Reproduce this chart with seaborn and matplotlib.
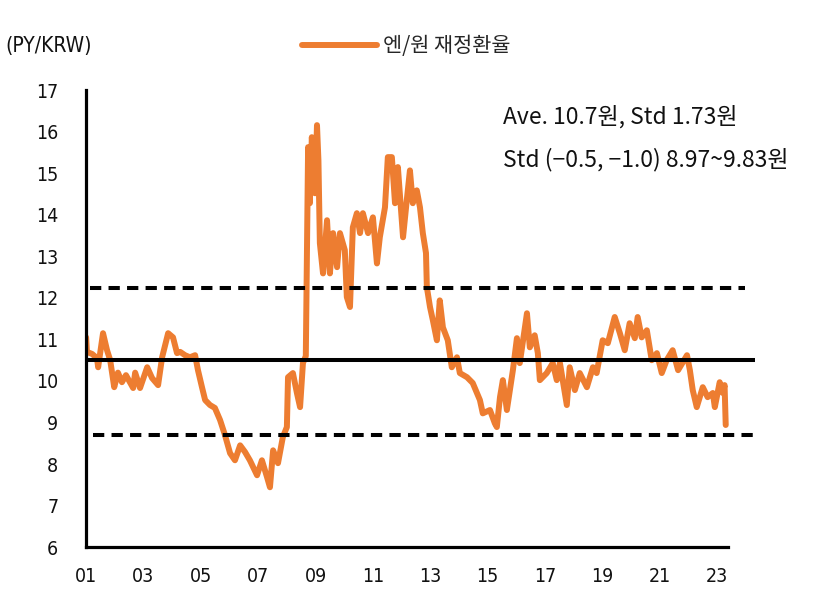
import pandas as pd
import numpy as np
import matplotlib.pyplot as plt
import seaborn as sns

# 엔/원 재정환율 (값은 그림에서 읽음)
years = [
    2001.00, 2001.03, 2001.21, 2001.38, 2001.42, 2001.59, 2001.73, 2001.84, 2001.98,
    2002.11, 2002.25, 2002.39, 2002.64, 2002.71, 2002.88, 2003.13, 2003.30, 2003.51,
    2003.65, 2003.86, 2004.03, 2004.17, 2004.28, 2004.45, 2004.62, 2004.80, 2004.90,
    2005.04, 2005.15, 2005.32, 2005.49, 2005.67, 2005.84, 2006.02, 2006.19, 2006.37,
    2006.54, 2006.71, 2006.96, 2007.13, 2007.31, 2007.41, 2007.52, 2007.69, 2007.86,
    2008.00, 2008.04, 2008.21, 2008.35, 2008.46, 2008.56, 2008.66, 2008.70, 2008.74,
    2008.80, 2008.87, 2008.98, 2009.05, 2009.10, 2009.15, 2009.26, 2009.40, 2009.50,
    2009.61, 2009.75, 2009.85, 2010.02, 2010.09, 2010.20, 2010.30, 2010.44, 2010.55,
    2010.65, 2010.83, 2011.00, 2011.14, 2011.24, 2011.42, 2011.52, 2011.66, 2011.77,
    2011.87, 2012.05, 2012.18, 2012.29, 2012.39, 2012.53, 2012.64, 2012.74, 2012.85,
    2012.88, 2012.99, 2013.09, 2013.23, 2013.33, 2013.44, 2013.61, 2013.75, 2013.93,
    2014.03, 2014.28, 2014.48, 2014.73, 2014.83, 2015.08, 2015.25, 2015.32, 2015.43,
    2015.53, 2015.67, 2015.88, 2016.02, 2016.12, 2016.37, 2016.47, 2016.64, 2016.75,
    2016.82, 2017.06, 2017.27, 2017.41, 2017.52, 2017.76, 2017.86, 2018.04, 2018.21,
    2018.46, 2018.67, 2018.80, 2019.01, 2019.19, 2019.43, 2019.61, 2019.78, 2019.95,
    2020.13, 2020.23, 2020.37, 2020.55, 2020.72, 2020.90, 2021.07, 2021.24, 2021.45,
    2021.64, 2021.95, 2022.05, 2022.15, 2022.29, 2022.50, 2022.67, 2022.85, 2022.92,
    2023.09, 2023.20, 2023.26, 2023.30,
]
rate = [
    11.05, 10.70, 10.65, 10.55, 10.33, 11.15, 10.74, 10.50, 9.85,
    10.20, 9.97, 10.14, 9.83, 10.20, 9.83, 10.33, 10.07, 9.90,
    10.57, 11.15, 11.05, 10.67, 10.70, 10.62, 10.57, 10.62, 10.26,
    9.85, 9.54, 9.42, 9.35, 9.06, 8.70, 8.26, 8.09, 8.45,
    8.29, 8.09, 7.73, 8.09, 7.68, 7.44, 8.33, 8.02, 8.65,
    8.89, 10.09, 10.19, 9.71, 9.37, 10.43, 10.60, 13.08, 15.63,
    14.28, 15.87, 14.52, 16.16, 15.31, 13.32, 12.59, 13.87, 12.59,
    13.56, 12.74, 13.56, 13.15, 12.02, 11.78, 13.70, 14.04, 13.56,
    14.04, 13.56, 13.94, 12.83, 13.46, 14.18, 15.39, 15.39, 14.28,
    15.15, 13.46, 14.35, 15.07, 14.28, 14.59, 14.18, 13.56, 13.08,
    12.26, 11.78, 11.46, 10.98, 11.94, 11.29, 10.98, 10.33, 10.57,
    10.19, 10.09, 9.95, 9.54, 9.22, 9.30, 8.98, 8.89, 9.61,
    10.02, 9.30, 10.26, 11.03, 10.43, 11.63, 10.81, 11.10, 10.67,
    10.02, 10.19, 10.43, 10.02, 10.43, 9.42, 10.33, 9.78, 10.19,
    9.85, 10.33, 10.19, 10.98, 10.91, 11.54, 11.15, 10.74, 11.39,
    11.03, 11.54, 11.05, 11.22, 10.50, 10.67, 10.19, 10.50, 10.74,
    10.26, 10.62, 10.26, 9.78, 9.37, 9.85, 9.61, 9.71, 9.37,
    9.97, 9.71, 9.90, 8.94,
]

# 평균 / 표준편차 밴드
mean_level = 10.5
upper_band = 12.23
lower_band = 8.70

xticks = list(range(2001, 2024, 2))
xtick_labels = [f"{y % 100:02d}" for y in xticks]
yticks = list(range(6, 18))

df = pd.DataFrame({'year': years, 'rate': rate})

sns.set_style('white')
plt.rcParams['font.family'] = ['DejaVu Sans', 'Noto Sans CJK KR']
plt.rcParams['font.stretch'] = 'condensed'
kr_font = ['Noto Sans CJK KR', 'DejaVu Sans']

fig = plt.figure(figsize=(8.2, 6.14), dpi=100)
ax = fig.add_axes([0.105, 0.109, 0.822, 0.744])

orange = '#ED7D31'
sns.lineplot(data=df, x='year', y='rate', ax=ax, color=orange, linewidth=4.3,
             label='엔/원 재정환율', solid_joinstyle='round', solid_capstyle='round')

ax.hlines(mean_level, 2001.0, 2024.31, color='black', linewidth=2.9)
ax.hlines(upper_band, 2001.14, 2023.96, color='black', linewidth=2.9,
          linestyles=(0, (2.8, 1.8)))
ax.hlines(lower_band, 2001.24, 2024.31, color='black', linewidth=2.9,
          linestyles=(0, (2.8, 1.8)))

ax.set_xlim(2001, 2024.5)
ax.set_ylim(6, 17)
ax.set_xticks(xticks)
ax.set_xticklabels(xtick_labels)
ax.set_yticks(yticks)
ax.set_xlabel('')
ax.set_ylabel('')

for side in ['top', 'right']:
    ax.spines[side].set_visible(False)
for side in ['left', 'bottom']:
    ax.spines[side].set_linewidth(2.3)
    ax.spines[side].set_color('black')
ax.spines['bottom'].set_bounds(2001, 2023.37)

ax.tick_params(axis='both', direction='in', length=4, width=1.8, color='black',
               labelsize=14, labelcolor='#111111')
ax.tick_params(axis='x', pad=14)
ax.tick_params(axis='y', pad=20)

fig.text(0.007, 0.925, '(PY/KRW)', fontsize=15, va='center', ha='left', color='#111111')

ax.legend(loc='center left', bbox_to_anchor=(0.345, 0.925), bbox_transform=fig.transFigure,
          frameon=False, handlelength=3.6, handletextpad=0.3,
          prop={'family': kr_font, 'size': 15})

fig.text(0.613, 0.81, 'Ave. 10.7원, Std 1.73원', fontsize=16.5, va='center', ha='left',
         family=kr_font, color='#111111')
fig.text(0.613, 0.74, 'Std (−0.5, −1.0) 8.97~9.83원', fontsize=16.5, va='center', ha='left',
         family=kr_font, fontweight='medium', color='#111111')

plt.savefig('out.png', dpi=100)
plt.close()
